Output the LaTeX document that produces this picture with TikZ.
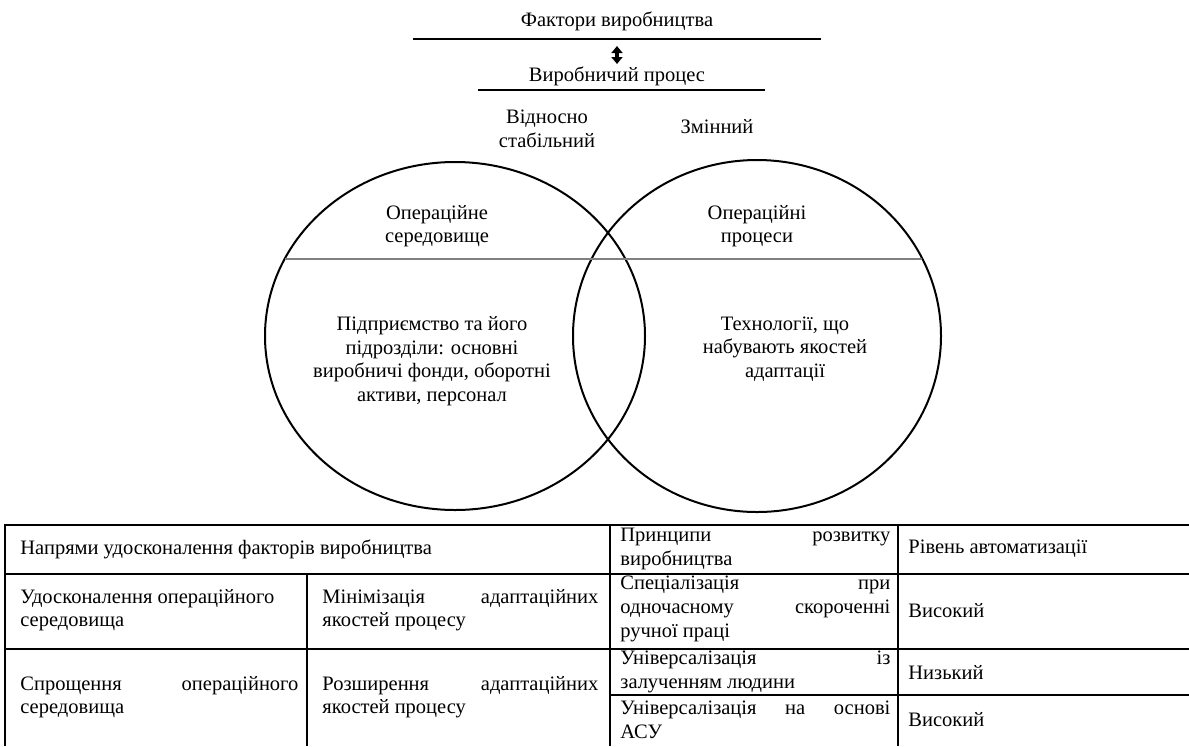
\documentclass[tikz,border=0pt]{standalone}
\usepackage{fontspec}
\setmainfont{Liberation Serif}
\usetikzlibrary{arrows.meta}
\hyphenpenalty=10000
\exhyphenpenalty=10000

\tikzset{
  txt/.style={font=\fontsize{10.25pt}{11.8pt}\selectfont, inner sep=0pt},
  cell/.style={txt, anchor=west, text width=#1, align=justify},
  headrule/.style={line width=0.75pt},
  ring/.style={line width=1pt},
  grid/.style={line width=1.2pt},
}

\begin{document}
\begin{tikzpicture}[x=0.5pt, y=-0.5pt]
\useasboundingbox (0,0) rectangle (1189,746);

	% top
	\node[txt] (fact) at (617,21) {Фактори виробництва};
	\draw[headrule] (413,39) -- (821,39);
	\coordinate (up) at (617,46);
	\coordinate (dn) at (617,64);
	\draw[line width=1.7pt, {Triangle[length=3.5pt,width=5.5pt]}-{Triangle[length=3.5pt,width=5.5pt]}] (up) -- (dn);
	\node[txt] (proc) at (617,76) {Виробничий процес};
	\draw[headrule] (478,90) -- (765,90);

	\node[txt, align=center] (stab) at (547,129) {Відносно\\стабільний};
	\node[txt] (var) at (717,127) {Змінний};

	% circles
	\draw[ring] (455,336) ellipse (190 and 174);
	\draw[ring] (757,336) ellipse (184 and 176);
	\draw[gray, line width=0.7pt] (285,259) -- (922,259);

	\node[txt, align=center] (env) at (437,226) {Операційне\\середовище};
	\node[txt, align=center] (ops) at (757,226) {Операційні\\процеси};
	\node[txt, align=center] (firm) at (432,361) {Підприємство та його\\підрозділи: основні\\виробничі фонди, оборотні\\активи, персонал};
	\node[txt, align=center] (tech) at (785,349) {Технології, що\\набувають якостей\\адаптації};

	% table
	\draw[grid] (5,746) -- (5,525) -- (1189,525);
	\draw[grid] (5,574) -- (1189,574);
	\draw[grid] (5,649) -- (1189,649);
	\draw[grid] (610,695) -- (1189,695);
	\draw[grid] (307,574) -- (307,746);
	\draw[grid] (610,525) -- (610,746);
	\draw[grid] (898,525) -- (898,746);

	\node[txt, anchor=west] (dir) at (20,549) {Напрями удосконалення факторів виробництва};
	\node[cell=135pt] (prin) at (620,549) {Принципи розвитку\linebreak виробництва};
	\node[txt, anchor=west] (lvl) at (908,549) {Рівень автоматизації};

	\node[cell=139pt] (impr) at (20,610) {Удосконалення операційного\\середовища};
	\node[cell=138pt] (mini) at (322,610) {Мінімізація адаптаційних\linebreak якостей процесу};
	\node[cell=135pt] (spec) at (620,609) {Спеціалізація при\linebreak одночасному скороченні\linebreak ручної праці};
	\node[txt, anchor=west] (high1) at (908,611) {Високий};

	\node[cell=139pt] (simp) at (20,697) {Спрощення операційного\linebreak середовища};
	\node[cell=138pt] (wide) at (322,697) {Розширення адаптаційних\linebreak якостей процесу};
	\node[cell=135pt] (univ1) at (620,672) {Універсалізація із\linebreak залученням людини};
	\node[txt, anchor=west] (low) at (908,673) {Низький};
	\node[cell=135pt] (univ2) at (620,720) {Універсалізація на основі\linebreak АСУ};
	\node[txt, anchor=west] (high2) at (908,720) {Високий};
\end{tikzpicture}
\end{document}
